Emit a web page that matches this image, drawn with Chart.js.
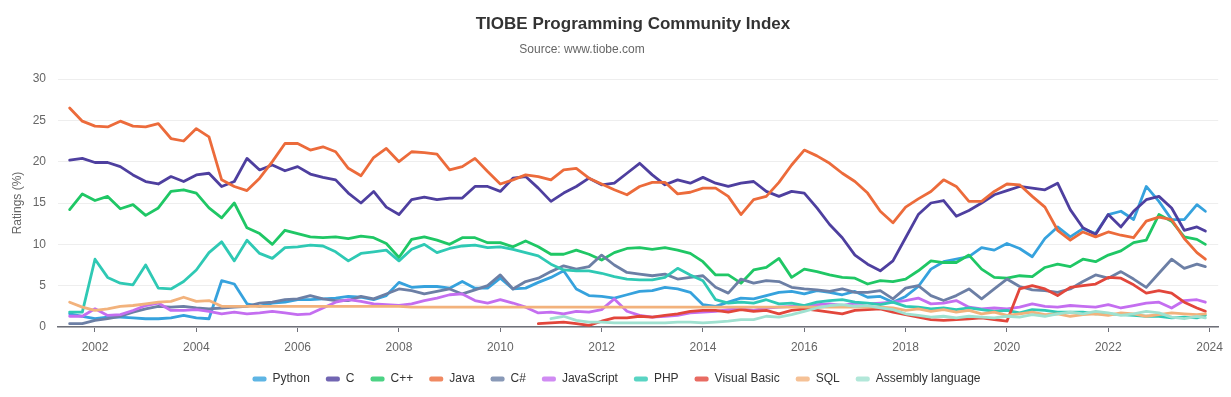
<!DOCTYPE html>
<html>
<head>
<meta charset="utf-8">
<title>TIOBE Programming Community Index</title>
<script src="https://cdn.jsdelivr.net/npm/chart.js@4.4.1/dist/chart.umd.min.js"></script>
<style>
  html, body { margin: 0; padding: 0; background: #fff; }
  canvas { display: block; }
</style>
</head>
<body>
<canvas id="tiobeChart" width="1231" height="397"></canvas>
<script>
// quarterly samples
var dates = [
  '2001-07','2001-10',
  '2002-01','2002-04','2002-07','2002-10', '2003-01','2003-04','2003-07','2003-10',
  '2004-01','2004-04','2004-07','2004-10', '2005-01','2005-04','2005-07','2005-10',
  '2006-01','2006-04','2006-07','2006-10', '2007-01','2007-04','2007-07','2007-10',
  '2008-01','2008-04','2008-07','2008-10', '2009-01','2009-04','2009-07','2009-10',
  '2010-01','2010-04','2010-07','2010-10', '2011-01','2011-04','2011-07','2011-10',
  '2012-01','2012-04','2012-07','2012-10', '2013-01','2013-04','2013-07','2013-10',
  '2014-01','2014-04','2014-07','2014-10', '2015-01','2015-04','2015-07','2015-10',
  '2016-01','2016-04','2016-07','2016-10', '2017-01','2017-04','2017-07','2017-10',
  '2018-01','2018-04','2018-07','2018-10', '2019-01','2019-04','2019-07','2019-10',
  '2020-01','2020-04','2020-07','2020-10', '2021-01','2021-04','2021-07','2021-10',
  '2022-01','2022-04','2022-07','2022-10', '2023-01','2023-04','2023-07','2023-10',
  '2023-12'
];

var yearTicks = [2002, 2004, 2006, 2008, 2010, 2012, 2014, 2016, 2018, 2020, 2022, 2024];

var python = [
  1.6, 1.3, 1.0, 1.2, 1.2, 1.1, 1.0, 1.0, 1.1, 1.4,
  1.1, 1.0, 5.6, 5.2, 2.8, 2.5, 2.9, 3.0, 3.3, 3.3,
  3.4, 3.5, 3.7, 3.6, 3.3, 3.8, 5.4, 4.8, 4.9, 4.9,
  4.7, 5.5, 4.7, 4.7, 5.9, 4.6, 4.7, 5.4, 6.0, 6.8,
  4.6, 3.8, 3.7, 3.5, 3.9, 4.3, 4.4, 4.8, 4.6, 4.2,
  2.7, 2.5, 3.0, 3.5, 3.4, 3.8, 4.2, 4.3, 4.0, 4.4,
  4.2, 3.9, 4.3, 3.6, 3.7, 3.0, 3.7, 4.9, 7.0, 7.9,
  8.2, 8.5, 9.6, 9.3, 10.1, 9.5, 8.5, 10.7, 12.1, 10.9,
  11.9, 11.3, 13.6, 14.0, 13.0, 17.0, 15.2, 13.0, 13.0, 14.8,
  14.0
];
var langC = [
  20.2, 20.4, 19.9, 19.9, 19.4, 18.4, 17.6, 17.3, 18.2, 17.6,
  18.4, 18.6, 17.0, 17.6, 20.4, 19.0, 19.6, 18.9, 19.4, 18.5,
  18.1, 17.8, 16.2, 15.0, 16.4, 14.5, 13.6, 15.4, 15.7, 15.4,
  15.6, 15.6, 17.0, 17.0, 16.4, 18.0, 18.2, 16.8, 15.2, 16.2,
  17.0, 18.0, 17.2, 17.4, 18.6, 19.8, 18.4, 17.2, 17.8, 17.4,
  18.1, 17.4, 17.0, 17.4, 17.6, 16.4, 15.8, 16.4, 16.2, 14.4,
  12.4, 10.8, 8.7, 7.6, 6.8, 8.0, 10.8, 13.6, 15.0, 15.3,
  13.4, 14.1, 15.0, 16.0, 16.5, 17.0, 16.8, 16.6, 17.4, 14.2,
  12.0, 11.2, 13.6, 12.1, 14.0, 15.4, 15.8, 14.4, 11.7, 12.1,
  11.6
];
var cpp = [
  14.2, 16.1, 15.3, 15.8, 14.3, 14.8, 13.5, 14.4, 16.4, 16.6,
  16.2, 14.4, 13.2, 15.0, 12.0, 11.3, 10.0, 11.7, 11.3, 10.9,
  10.8, 10.9, 10.7, 11.0, 10.8, 10.1, 8.4, 10.6, 10.9, 10.5,
  10.0, 10.8, 10.8, 10.2, 10.2, 9.7, 10.4, 9.7, 8.8, 8.8,
  9.3, 8.8, 8.1, 9.0, 9.5, 9.6, 9.4, 9.6, 9.3, 8.9,
  7.9, 6.3, 6.3, 5.3, 6.9, 7.2, 8.3, 6.0, 7.0, 6.7,
  6.3, 6.0, 5.9, 5.2, 5.6, 5.5, 5.8, 6.8, 8.0, 7.8,
  7.8, 8.7, 7.0, 6.0, 5.9, 6.2, 6.1, 7.2, 7.6, 7.3,
  8.2, 7.9, 8.7, 9.2, 10.2, 10.5, 13.6, 12.8, 10.9, 10.6,
  10.0
];
var java = [
  26.5, 24.9, 24.3, 24.2, 24.9, 24.3, 24.2, 24.6, 22.8, 22.5,
  24.0, 23.0, 17.8, 17.0, 16.5, 18.0, 20.0, 22.2, 22.2, 21.4,
  21.8, 21.2, 19.2, 18.3, 20.5, 21.6, 20.0, 21.2, 21.1, 20.9,
  19.0, 19.4, 20.4, 18.8, 17.3, 17.8, 18.4, 18.2, 17.8, 19.0,
  19.2, 18.0, 17.3, 16.6, 16.0, 17.0, 17.5, 17.5, 16.1, 16.3,
  16.8, 16.8, 15.8, 13.6, 15.4, 15.8, 17.5, 19.6, 21.4, 20.7,
  19.8, 18.6, 17.6, 16.2, 14.0, 12.6, 14.5, 15.5, 16.4, 17.8,
  17.0, 15.2, 15.2, 16.4, 17.3, 17.2, 15.8, 14.5, 11.7, 10.5,
  11.5, 10.9, 11.5, 11.1, 10.8, 12.8, 13.3, 13.0, 10.7, 9.0,
  8.2
];
var csharp = [
  0.4, 0.4, 0.8, 1.0, 1.3, 1.8, 2.2, 2.5, 2.4, 2.5,
  2.3, 2.2, 2.3, 2.4, 2.5, 2.9, 3.0, 3.3, 3.4, 3.8,
  3.4, 3.2, 3.2, 3.7, 3.4, 4.0, 4.6, 4.4, 4.0, 4.3,
  4.6, 4.0, 4.5, 5.0, 6.3, 4.6, 5.5, 5.9, 6.7, 7.4,
  7.0, 7.3, 8.7, 7.5, 6.6, 6.4, 6.2, 6.4, 5.8, 6.0,
  6.2, 4.8, 4.1, 5.8, 5.3, 5.6, 5.5, 4.8, 4.6, 4.5,
  4.3, 4.6, 4.2, 4.2, 4.4, 3.4, 4.7, 5.0, 3.8, 3.2,
  3.8, 4.6, 3.4, 4.6, 5.8, 4.9, 4.5, 4.4, 4.2, 4.6,
  5.5, 6.3, 5.9, 6.7, 5.8, 4.8, 6.5, 8.2, 7.1, 7.6,
  7.3
];
var javascript = [
  1.3, 1.3, 2.2, 1.4, 1.5, 2.0, 2.6, 2.9, 2.0, 2.0,
  2.1, 1.9, 1.6, 1.8, 1.6, 1.7, 1.9, 1.7, 1.5, 1.6,
  2.3, 3.0, 3.3, 3.1, 2.8, 2.7, 2.6, 2.8, 3.2, 3.5,
  3.9, 4.0, 3.2, 2.9, 3.3, 2.9, 2.4, 1.7, 1.8, 1.6,
  1.9, 1.8, 2.1, 3.4, 1.9, 1.4, 1.2, 1.3, 1.4, 1.7,
  1.8, 1.9, 2.1, 2.2, 2.0, 2.3, 2.4, 2.5, 2.6, 2.7,
  2.8, 2.6, 2.9, 2.8, 2.9, 3.0, 3.2, 3.5, 2.8, 2.9,
  3.2, 2.4, 2.2, 2.3, 2.2, 2.4, 2.8, 2.5, 2.4, 2.6,
  2.5, 2.4, 2.7, 2.3, 2.6, 2.9, 3.0, 2.3, 3.2, 3.3,
  3.0
];
var php = [
  1.8, 1.8, 8.2, 6.0, 5.3, 5.1, 7.5, 4.7, 4.6, 5.5,
  6.9, 9.0, 10.3, 8.0, 10.5, 8.9, 8.3, 9.6, 9.7, 9.9,
  9.8, 9.1, 8.0, 8.9, 9.1, 9.3, 8.0, 9.4, 10.0, 9.0,
  9.5, 9.8, 9.9, 9.6, 9.7, 9.4, 9.0, 8.6, 7.6, 6.9,
  6.8, 6.8, 6.5, 6.1, 5.8, 5.7, 5.7, 6.0, 7.1, 6.3,
  5.6, 3.3, 2.9, 3.0, 2.9, 3.3, 2.8, 2.9, 2.6, 3.0,
  3.2, 3.3, 3.0, 2.9, 2.7, 3.0, 2.5, 2.4, 2.2, 2.3,
  2.1, 2.3, 2.1, 1.9, 2.0, 1.7, 2.1, 2.0, 1.8, 1.8,
  1.8, 1.6, 1.6, 1.5, 1.4, 1.3, 1.3, 1.1, 1.2, 1.1,
  1.4
];
var visualBasic = [
  null, null, null, null, null, null, null, null, null, null,
  null, null, null, null, null, null, null, null, null, null,
  null, null, null, null, null, null, null, null, null, null,
  null, null, null, null, null, null, null, 0.4, 0.5, 0.6,
  0.4, 0.2, 0.7, 1.1, 1.1, 1.3, 1.2, 1.4, 1.6, 1.9,
  2.0, 2.0, 1.8, 2.1, 1.9, 2.0, 1.6, 2.0, 2.2, 2.0,
  1.8, 1.6, 2.0, 2.1, 2.2, 1.8, 1.5, 1.2, 0.9, 0.8,
  0.9, 1.0, 1.1, 0.9, 0.7, 4.6, 5.0, 4.6, 3.8, 4.8,
  5.0, 5.2, 6.0, 5.9, 5.1, 4.1, 4.4, 4.1, 3.0, 2.3,
  1.9
];
var sql = [
  3.0, 2.4, 2.0, 2.2, 2.5, 2.6, 2.8, 3.0, 3.1, 3.6,
  3.1, 3.2, 2.5, 2.5, 2.5, 2.5, 2.5, 2.5, 2.5, 2.5,
  2.5, 2.5, 2.5, 2.5, 2.5, 2.5, 2.5, 2.4, 2.4, 2.4,
  2.4, 2.4, 2.4, 2.4, 2.4, 2.4, 2.4, 2.4, 2.4, 2.4,
  2.4, 2.4, 2.4, 2.4, 2.4, 2.4, 2.4, 2.4, 2.4, 2.4,
  2.4, 2.4, 2.4, 2.4, 2.4, 2.4, 2.4, 2.4, 2.4, 2.4,
  2.4, 2.4, 2.4, 2.4, 2.4, 2.3, 2.0, 2.2, 1.9, 2.1,
  1.8, 2.0, 1.6, 1.8, 1.4, 1.6, 1.8, 1.5, 1.6, 1.3,
  1.5, 1.6, 1.4, 1.7, 1.6, 1.3, 1.5, 1.7, 1.6, 1.5,
  1.6
];
var assembly = [
  null, null, null, null, null, null, null, null, null, null,
  null, null, null, null, null, null, null, null, null, null,
  null, null, null, null, null, null, null, null, null, null,
  null, null, null, null, null, null, null, null, 1.0, 1.3,
  0.8, 0.6, 0.6, 0.5, 0.5, 0.5, 0.5, 0.5, 0.6, 0.6,
  0.5, 0.6, 0.7, 0.9, 0.9, 1.3, 1.2, 1.5, 1.9, 2.3,
  2.6, 2.7, 2.5, 2.6, 2.3, 2.1, 1.6, 1.4, 1.2, 1.3,
  1.1, 1.3, 1.2, 1.1, 1.3, 1.2, 1.5, 1.3, 1.6, 1.8,
  1.6, 1.9, 1.7, 1.4, 1.6, 1.9, 1.7, 1.2, 1.0, 1.3,
  1.1
];

var languages = ['Python', 'C', 'C++', 'Java', 'C#', 'JavaScript', 'PHP', 'Visual Basic', 'SQL', 'Assembly language'];
var values = [python, langC, cpp, java, csharp, javascript, php, visualBasic, sql, assembly];
var colors = ['#36a2dd', '#4e3f9f', '#1fc765', '#ec6b3b', '#6c7fa5', '#c46ef0', '#2fc9b4', '#e2463b', '#f2b27c', '#9fe1d0'];

// '2001-07' -> 2001.5
function toYear(d) {
  var parts = d.split('-');
  return Number(parts[0]) + (Number(parts[1]) - 1) / 12;
}

var titlePlugin = {
  id: 'tiobeTitle',
  afterDraw: function (chart) {
    var ctx = chart.ctx;
    ctx.save();
    ctx.textAlign = 'center';
    ctx.textBaseline = 'middle';
    ctx.fillStyle = '#333';
    ctx.font = 'bold 17px "Liberation Sans", Arial, sans-serif';
    ctx.fillText('TIOBE Programming Community Index', 633, 24);
    ctx.fillStyle = '#666';
    ctx.font = '12px "Liberation Sans", Arial, sans-serif';
    ctx.fillText('Source: www.tiobe.com', 582, 50);
    ctx.restore();
  }
};

Chart.defaults.font.family = '"Liberation Sans", Arial, sans-serif';

var ctx = document.getElementById('tiobeChart');
var myChart = new Chart(ctx, {
  type: 'line',
  data: {
    datasets: languages.map(function (name, i) {
      return {
        label: name,
        data: values[i].map(function (v, j) { return { x: toYear(dates[j]), y: v }; }),
        borderColor: colors[i],
        backgroundColor: colors[i] + 'cc',
        borderWidth: 2.8,
        pointRadius: 0,
        pointHoverRadius: 0,
        tension: 0,
        fill: false,
        borderJoinStyle: 'round',
        borderCapStyle: 'round',
        order: languages.length - i // later series on top
      };
    })
  },
  options: {
    responsive: false,
    animation: false,
    layout: { padding: { left: 10, right: 8, top: 79, bottom: 2 } },
    plugins: {
      legend: {
        position: 'bottom',
        labels: {
          boxWidth: 14,
          boxHeight: 5,
          useBorderRadius: true,
          borderRadius: 2,
          padding: 16,
          color: '#333',
          font: { size: 12 },
          sort: function (a, b) { return a.datasetIndex - b.datasetIndex; },
          generateLabels: function (chart) {
            return Chart.defaults.plugins.legend.labels.generateLabels(chart).map(function (item) {
              item.lineWidth = 0;
              return item;
            });
          }
        }
      },
      tooltip: { enabled: false }
    },
    scales: {
      x: {
        type: 'linear',
        min: 2001.27,
        max: 2024.17,
        afterBuildTicks: function (scale) {
          scale.ticks = yearTicks.map(function (v) { return { value: v }; });
        },
        afterFit: function (scale) { scale.height = 30; },
        ticks: {
          autoSkip: false,
          maxRotation: 0,
          color: '#666',
          padding: 8,
          font: { size: 12 },
          callback: function (v) { return String(v); }
        },
        grid: { drawOnChartArea: false, drawTicks: true, tickLength: 5, color: '#6e7079' },
        border: { color: '#6e7079', width: 1.5 }
      },
      y: {
        min: 0,
        max: 30,
        afterFit: function (scale) { scale.width = 48; },
        ticks: { stepSize: 5, color: '#666', padding: 12, font: { size: 12 } },
        grid: { color: '#eeeeee', drawTicks: false },
        border: { display: false },
        title: { display: true, text: 'Ratings (%)', color: '#666', font: { size: 12 }, padding: 0 }
      }
    }
  },
  plugins: [titlePlugin]
});
</script>
</body>
</html>
